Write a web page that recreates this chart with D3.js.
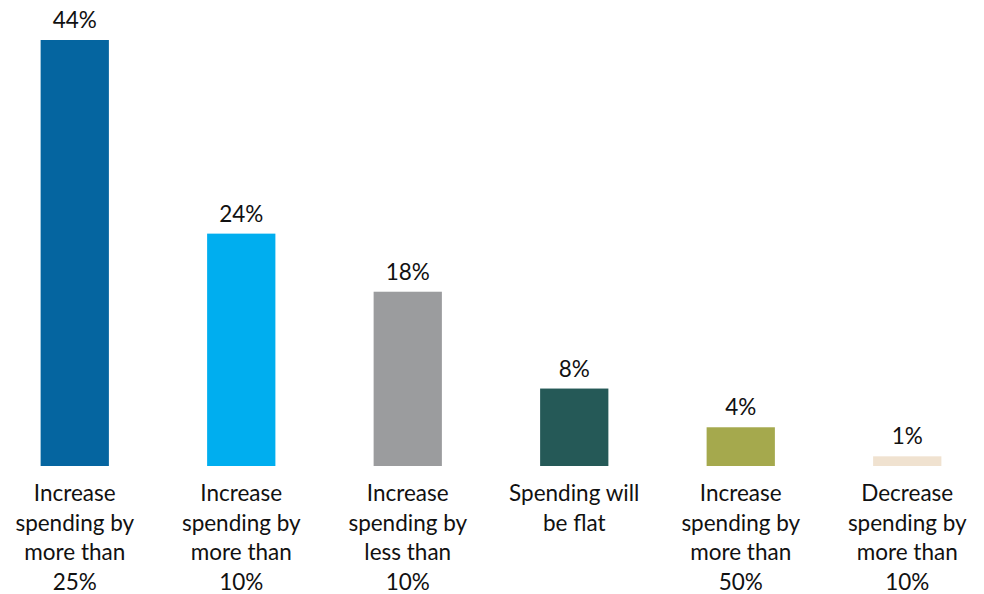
<!DOCTYPE html>
<html>
<head>
<meta charset="utf-8">
<script src="https://cdn.jsdelivr.net/npm/d3@7"></script>
<style>
  html, body { margin: 0; padding: 0; background: #ffffff; }
  svg { display: block; }
  text { font-family: Lato, "Open Sans", sans-serif; fill: #111111; }
</style>
</head>
<body>
<svg id="chart" width="984" height="594"></svg>
<script>
// Spending intentions: share of respondents per answer
const categories = [
  "Increase spending by more than 25%",
  "Increase spending by more than 10%",
  "Increase spending by less than 10%",
  "Spending will be flat",
  "Increase spending by more than 50%",
  "Decrease spending by more than 10%"
];
const categoryLines = [
  ["Increase", "spending by", "more than", "25%"],
  ["Increase", "spending by", "more than", "10%"],
  ["Increase", "spending by", "less than", "10%"],
  ["Spending will", "be flat"],
  ["Increase", "spending by", "more than", "50%"],
  ["Decrease", "spending by", "more than", "10%"]
];
const values = [44, 24, 18, 8, 4, 1];
const colors = ["#0565A0", "#00AEEF", "#9B9C9E", "#255957", "#A5A94D", "#F0E2D0"];

const svg = d3.select("#chart");
const baseY = 466;
const topY = 40;

const x = d3.scaleBand()
  .domain(categories)
  .range([-1, 983])
  .paddingInner(0.59)
  .paddingOuter(0.25);

const y = d3.scaleLinear()
  .domain([0, 44])
  .range([baseY, topY]);

const g = svg.append("g");

// bars
g.selectAll("rect.bar")
  .data(categories)
  .join("rect")
  .attr("class", "bar")
  .attr("x", d => x(d))
  .attr("width", x.bandwidth())
  .attr("y", (d, i) => y(values[i]))
  .attr("height", (d, i) => y(0) - y(values[i]))
  .attr("fill", (d, i) => colors[i]);

// value labels above each bar
g.selectAll("text.value")
  .data(categories)
  .join("text")
  .attr("class", "value")
  .attr("x", d => x(d) + x.bandwidth() / 2)
  .attr("y", (d, i) => y(values[i]) - 12)
  .attr("text-anchor", "middle")
  .style("font-size", "22.5px")
  .text((d, i) => values[i] + "%");

// category labels, wrapped into lines under each bar
const labels = g.selectAll("text.cat")
  .data(categories)
  .join("text")
  .attr("class", "cat")
  .attr("text-anchor", "middle")
  .style("font-size", "22.5px");

labels.each(function(d, i) {
  const t = d3.select(this);
  categoryLines[i].forEach((line, j) => {
    t.append("tspan")
      .attr("x", x(d) + x.bandwidth() / 2)
      .attr("y", 501 + j * 29.5)
      .text(line);
  });
});
</script>
</body>
</html>
